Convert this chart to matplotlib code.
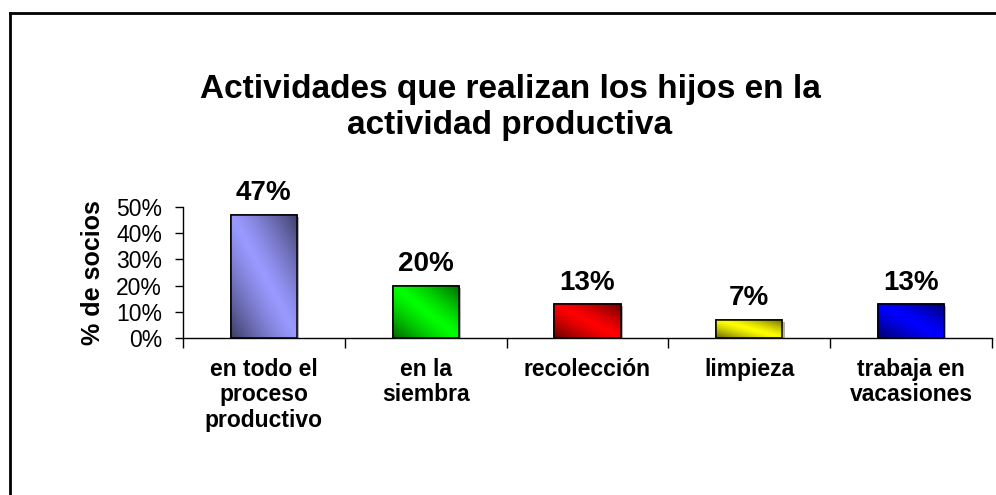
import numpy as np
import matplotlib.pyplot as plt
from matplotlib.lines import Line2D
from matplotlib.ticker import PercentFormatter, FixedLocator
import matplotlib.patheffects as pe

plt.rcParams['font.family'] = ['Liberation Sans', 'DejaVu Sans']

# Datos
categorias = ['en todo el\nproceso\nproductivo', 'en la\nsiembra', 'recolección',
              'limpieza', 'trabaja en\nvacasiones']
porcentajes = [47, 20, 13, 7, 13]
colores = ['#9999FF', '#00FF00', '#FF0000', '#FFFF00', '#0000FF']

fig = plt.figure(figsize=(9.96, 4.95), dpi=100)
ax = fig.add_axes([0.1837, 0.317, 0.8123, 0.265])

x = np.arange(len(categorias))
valores = np.array(porcentajes) / 100
ancho = 0.41

# Barras base con sombra ligera
barras = ax.bar(x, valores, width=ancho, color=colores, edgecolor='black',
                linewidth=1.1, zorder=2,
                path_effects=[pe.SimplePatchShadow(offset=(1.5, -1.5),
                                                   shadow_rgbFace='gray', alpha=0.6),
                              pe.Normal()])

# Relleno degradado en diagonal (claro en el centro, oscuro en las esquinas)
n = 100
u, v = np.meshgrid(np.linspace(0, 1, n), np.linspace(1, 0, n))
d = np.clip(np.abs(u + v - 1), 0, 1) ** 1.3
for barra, color in zip(barras, colores):
    base = np.array(plt.matplotlib.colors.to_rgb(color))
    img = base[None, None, :] * (1 - 0.6 * d[:, :, None])
    x0, y0 = barra.get_x(), barra.get_y()
    w, h = barra.get_width(), barra.get_height()
    im = ax.imshow(img, extent=(x0, x0 + w, y0, y0 + h), aspect='auto',
                   zorder=2.5, interpolation='bilinear')
    im.set_clip_path(barra)
    # borde encima del degradado
    ax.add_patch(plt.Rectangle((x0, y0), w, h, fill=False, edgecolor='black',
                               linewidth=1.1, zorder=3))

# Etiquetas de valor
for xi, val in zip(x, porcentajes):
    ax.annotate(f'{val}%', (xi, val / 100), xytext=(0, 6), textcoords='offset points',
                ha='center', va='bottom', fontsize=20, fontweight='bold')

ax.set_xlim(-0.5, len(categorias) - 0.5)
ax.set_ylim(0, 0.5)
ax.set_yticks(np.arange(0, 0.51, 0.1))
ax.yaxis.set_major_formatter(PercentFormatter(1.0, decimals=0))
ax.tick_params(axis='y', labelsize=16.5, length=6, width=1, direction='out', pad=9)

# Marcas del eje x entre categorías y etiquetas centradas
ax.set_xticks(x)
ax.set_xticklabels(categorias, fontsize=16.5, fontweight='bold', linespacing=1.15)
ax.tick_params(axis='x', length=0, pad=14)
ax.xaxis.set_minor_locator(FixedLocator(np.arange(-0.5, len(categorias), 1.0)))
ax.tick_params(axis='x', which='minor', length=7, width=1, direction='out')

ax.set_ylabel('% de socios', fontsize=18, fontweight='bold', labelpad=8)

for lado in ['top', 'right']:
    ax.spines[lado].set_visible(False)
ax.spines['left'].set_linewidth(1)
ax.spines['bottom'].set_linewidth(1)

fig.text(0.512, 0.783, 'Actividades que realizan los hijos en la\nactividad productiva',
         ha='center', va='center', fontsize=24, fontweight='bold', linespacing=1.2)

# Marco del gráfico (solo bordes superior e izquierdo)
fig.add_artist(Line2D([10 / 996, 1], [1 - 13 / 495, 1 - 13 / 495],
                      color='black', linewidth=2, transform=fig.transFigure))
fig.add_artist(Line2D([10 / 996, 10 / 996], [0, 1 - 13 / 495],
                      color='black', linewidth=2, transform=fig.transFigure))

fig.savefig('out.png', dpi=100)
